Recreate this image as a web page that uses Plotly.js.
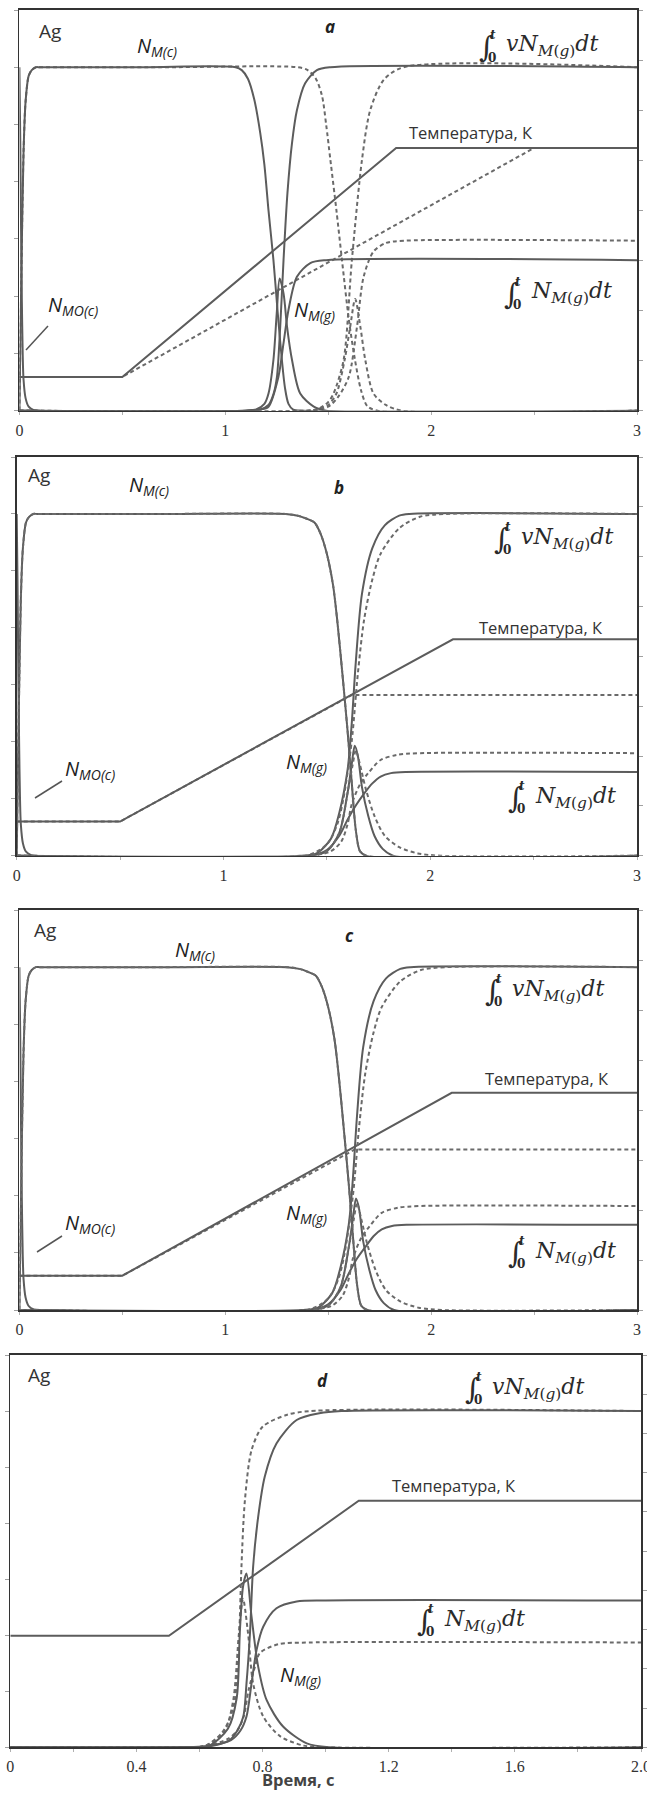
<!DOCTYPE html>
<html>
<head>
<meta charset="utf-8">
<script src="https://cdn.plot.ly/plotly-3.0.1.min.js"></script>
<style>
  html, body { margin: 0; padding: 0; background: #fff; }
  #chart { width: 647px; height: 1793px; }
</style>
</head>
<body>
<div id="chart"></div>
<script>
// ---------- tick labels ----------
const ticksABC = [0, 0.5, 1, 1.5, 2, 2.5, 3];
const tickTextABC = ['0', '', '1', '', '2', '', '3'];
const ticksD = [0, 0.2, 0.4, 0.6, 0.8, 1.0, 1.2, 1.4, 1.6, 1.8, 2.0];
const tickTextD = ['0', '', '0.4', '', '0.8', '', '1.2', '', '1.6', '', '2.0'];

// ---------- panel a ----------
const a_NMOc_t = [0, 0.004, 0.008, 0.012, 0.016, 0.02, 0.03, 0.045, 0.07, 0.1];
const a_NMOc_v = [6.0, 4.8, 3.2, 1.9, 1.0, 0.55, 0.22, 0.07, 0.01, 0];
const a_NMc_t = [0, 0.01, 0.02, 0.03, 0.045, 0.06, 0.08, 0.1, 0.6, 1.05, 1.08, 1.11, 1.14, 1.17, 1.19, 1.21, 1.234, 1.255, 1.275, 1.29, 1.307, 1.33, 1.38, 3];
const a_NMc_v = [0, 2.5, 4.5, 5.4, 5.85, 5.95, 6, 6, 6, 6, 5.95, 5.8, 5.45, 4.85, 4.3, 3.5, 2.63, 1.7, 0.89, 0.4, 0.12, 0.02, 0, 0];
const a_NMcD_t = [0, 0.01, 0.02, 0.03, 0.045, 0.06, 0.08, 0.1, 0.7, 1.35, 1.4, 1.44, 1.47, 1.49, 1.51, 1.54, 1.567, 1.6, 1.63, 1.66, 1.69, 1.74, 3];
const a_NMcD_v = [0, 2.5, 4.5, 5.4, 5.85, 5.95, 6, 6, 6, 6, 5.95, 5.8, 5.5, 5.0, 4.4, 3.5, 2.63, 1.6, 0.89, 0.35, 0.08, 0, 0];
const a_vN_t = [0, 1.1, 1.17, 1.21, 1.235, 1.251, 1.267, 1.283, 1.302, 1.324, 1.348, 1.388, 1.445, 1.51, 3];
const a_vN_v = [0, 0, 0.02, 0.1, 0.3, 0.59, 1.47, 2.63, 3.8, 4.67, 5.25, 5.72, 5.95, 6, 6];
const a_vND_t = [0, 1.4, 1.45, 1.5, 1.526, 1.575, 1.615, 1.664, 1.704, 1.77, 1.866, 3];
const a_vND_v = [0, 0, 0.03, 0.15, 0.3, 0.89, 2.63, 4.38, 5.25, 5.78, 6, 6];
const a_IN_t = [0, 1.1, 1.17, 1.21, 1.258, 1.283, 1.307, 1.348, 1.413, 1.49, 3];
const a_IN_v = [0, 0, 0.02, 0.07, 0.59, 1.18, 1.76, 2.34, 2.58, 2.63, 2.63];
const a_IND_t = [0, 1.4, 1.5, 1.55, 1.6, 1.64, 1.672, 1.72, 1.78, 1.87, 3];
const a_IND_v = [0, 0, 0.07, 0.25, 0.59, 1.47, 2.34, 2.78, 2.93, 2.97, 2.97];
const a_NMg_t = [0, 1.1, 1.15, 1.19, 1.21, 1.234, 1.25, 1.264, 1.283, 1.3, 1.324, 1.364, 1.43, 1.49, 3];
const a_NMg_v = [0, 0, 0.02, 0.12, 0.3, 0.89, 1.7, 2.31, 2.05, 1.47, 0.89, 0.3, 0.07, 0, 0];
const a_NMgD_t = [0, 1.4, 1.45, 1.5, 1.54, 1.58, 1.607, 1.631, 1.656, 1.68, 1.72, 1.78, 1.86, 3];
const a_NMgD_v = [0, 0, 0.02, 0.1, 0.3, 0.89, 1.47, 1.95, 1.47, 0.89, 0.3, 0.1, 0, 0];
const a_T_t = [0, 0.5, 1.83, 3];
const a_T_v = [0.59, 0.59, 4.59, 4.59];
const a_TD_t = [0, 0.5, 2.5, 3];
const a_TD_v = [0.59, 0.59, 4.59, 4.59];

// ---------- panel b ----------
const b_NMOc_t = [0, 0.004, 0.008, 0.012, 0.016, 0.02, 0.03, 0.045, 0.07, 0.1];
const b_NMOc_v = [6.0, 4.8, 3.2, 1.9, 1.0, 0.55, 0.22, 0.07, 0.01, 0];
const b_NMc_t = [0, 0.01, 0.02, 0.03, 0.045, 0.06, 0.08, 0.1, 0.7, 1.3, 1.36, 1.4, 1.44, 1.47, 1.5, 1.53, 1.55, 1.575, 1.6, 1.62, 1.64, 1.66, 1.69, 3];
const b_NMc_v = [0, 2.5, 4.5, 5.4, 5.85, 5.95, 6, 6, 6, 6, 5.97, 5.92, 5.85, 5.65, 5.3, 4.75, 4.14, 3.2, 2.2, 1.3, 0.45, 0.08, 0, 0];
const b_NMcD_t = [0, 0.01, 0.02, 0.03, 0.045, 0.06, 0.08, 0.1, 0.7, 1.3, 1.36, 1.4, 1.44, 1.47, 1.5, 1.53, 1.55, 1.575, 1.6, 1.62, 1.64, 1.66, 1.69, 3];
const b_NMcD_v = [0, 2.5, 4.5, 5.4, 5.85, 5.95, 6, 6, 6, 6, 5.97, 5.92, 5.85, 5.65, 5.3, 4.75, 4.14, 3.2, 2.2, 1.3, 0.45, 0.08, 0, 0];
const b_vN_t = [0, 1.37, 1.45, 1.52, 1.56, 1.6, 1.62, 1.64, 1.67, 1.72, 1.78, 1.85, 1.9, 3];
const b_vN_v = [0, 0, 0.04, 0.3, 0.75, 1.5, 2.3, 3.4, 4.6, 5.4, 5.8, 5.97, 6, 6];
const b_vND_t = [0, 1.4, 1.5, 1.55, 1.58, 1.62, 1.65, 1.68, 1.72, 1.76, 1.85, 1.95, 2.07, 3];
const b_vND_v = [0, 0, 0.2, 0.55, 1.0, 2.0, 3.2, 4.14, 4.85, 5.3, 5.75, 5.95, 6, 6];
const b_IN_t = [0, 1.42, 1.5, 1.56, 1.6, 1.64, 1.68, 1.72, 1.76, 1.81, 1.88, 3];
const b_IN_v = [0, 0, 0.1, 0.35, 0.63, 0.88, 1.09, 1.27, 1.39, 1.45, 1.47, 1.47];
const b_IND_t = [0, 1.42, 1.52, 1.57, 1.6, 1.62, 1.66, 1.7, 1.76, 1.84, 1.95, 3];
const b_IND_v = [0, 0, 0.08, 0.25, 0.55, 0.9, 1.25, 1.45, 1.68, 1.77, 1.8, 1.8];
const b_NMg_t = [0, 1.42, 1.5, 1.56, 1.6, 1.62, 1.635, 1.65, 1.67, 1.7, 1.73, 1.77, 1.82, 3];
const b_NMg_v = [0, 0, 0.08, 0.4, 1.1, 1.6, 1.93, 1.75, 1.2, 0.7, 0.35, 0.12, 0, 0];
const b_NMgD_t = [0, 1.42, 1.5, 1.56, 1.6, 1.625, 1.64, 1.66, 1.69, 1.73, 1.78, 1.85, 1.94, 2.05, 3];
const b_NMgD_v = [0, 0, 0.08, 0.4, 1.1, 1.6, 1.85, 1.6, 1.15, 0.7, 0.35, 0.15, 0.04, 0, 0];
const b_T_t = [0, 0.5, 2.11, 3];
const b_T_v = [0.6, 0.6, 3.8, 3.8];
const b_TD_t = [0, 0.5, 1.62, 3];
const b_TD_v = [0.6, 0.6, 2.82, 2.82];

// ---------- panel c ----------
const c_NMOc_t = [0, 0.004, 0.008, 0.012, 0.016, 0.02, 0.03, 0.045, 0.07, 0.1];
const c_NMOc_v = [6.0, 4.8, 3.2, 1.9, 1.0, 0.55, 0.22, 0.07, 0.01, 0];
const c_NMc_t = [0, 0.01, 0.02, 0.03, 0.045, 0.06, 0.08, 0.1, 0.7, 1.3, 1.36, 1.4, 1.44, 1.47, 1.5, 1.53, 1.55, 1.575, 1.6, 1.62, 1.64, 1.66, 1.69, 3];
const c_NMc_v = [0, 2.5, 4.5, 5.4, 5.85, 5.95, 6, 6, 6, 6, 5.97, 5.92, 5.85, 5.65, 5.3, 4.75, 4.14, 3.2, 2.2, 1.3, 0.45, 0.08, 0, 0];
const c_NMcD_t = [0, 0.01, 0.02, 0.03, 0.045, 0.06, 0.08, 0.1, 0.7, 1.3, 1.36, 1.4, 1.44, 1.47, 1.5, 1.53, 1.55, 1.575, 1.6, 1.62, 1.64, 1.66, 1.69, 3];
const c_NMcD_v = [0, 2.5, 4.5, 5.4, 5.85, 5.95, 6, 6, 6, 6, 5.97, 5.92, 5.85, 5.65, 5.3, 4.75, 4.14, 3.2, 2.2, 1.3, 0.45, 0.08, 0, 0];
const c_vN_t = [0, 1.37, 1.45, 1.52, 1.56, 1.6, 1.62, 1.64, 1.67, 1.72, 1.78, 1.85, 1.9, 3];
const c_vN_v = [0, 0, 0.04, 0.3, 0.75, 1.5, 2.3, 3.4, 4.6, 5.4, 5.8, 5.97, 6, 6];
const c_vND_t = [0, 1.4, 1.5, 1.55, 1.58, 1.62, 1.65, 1.68, 1.72, 1.76, 1.85, 1.95, 2.07, 3];
const c_vND_v = [0, 0, 0.2, 0.55, 1.0, 2.0, 3.2, 4.14, 4.85, 5.3, 5.75, 5.95, 6, 6];
const c_IN_t = [0, 1.42, 1.5, 1.56, 1.6, 1.64, 1.68, 1.72, 1.76, 1.81, 1.88, 3];
const c_IN_v = [0, 0, 0.1, 0.35, 0.64, 0.9, 1.1, 1.29, 1.41, 1.47, 1.49, 1.49];
const c_IND_t = [0, 1.42, 1.52, 1.57, 1.6, 1.62, 1.66, 1.7, 1.76, 1.84, 1.95, 3];
const c_IND_v = [0, 0, 0.08, 0.25, 0.55, 0.9, 1.26, 1.46, 1.7, 1.79, 1.82, 1.82];
const c_NMg_t = [0, 1.42, 1.5, 1.56, 1.6, 1.62, 1.635, 1.65, 1.67, 1.7, 1.73, 1.77, 1.82, 3];
const c_NMg_v = [0, 0, 0.08, 0.4, 1.1, 1.6, 1.95, 1.77, 1.2, 0.7, 0.35, 0.12, 0, 0];
const c_NMgD_t = [0, 1.42, 1.5, 1.56, 1.6, 1.625, 1.64, 1.66, 1.69, 1.73, 1.78, 1.85, 1.94, 2.05, 3];
const c_NMgD_v = [0, 0, 0.08, 0.4, 1.1, 1.6, 1.87, 1.6, 1.15, 0.7, 0.35, 0.15, 0.04, 0, 0];
const c_T_t = [0, 0.5, 2.1, 3];
const c_T_v = [0.6, 0.6, 3.8, 3.8];
const c_TD_t = [0, 0.5, 1.63, 3];
const c_TD_v = [0.6, 0.6, 2.81, 2.81];

// ---------- panel d ----------
const d_vN_t = [0, 0.55, 0.62, 0.66, 0.696, 0.72, 0.739, 0.749, 0.76, 0.77, 0.786, 0.807, 0.844, 0.908, 0.98, 1.05, 2];
const d_vN_v = [0, 0, 0.01, 0.05, 0.13, 0.3, 0.55, 1.14, 2.03, 3.22, 4.11, 4.83, 5.42, 5.84, 5.96, 6, 6];
const d_vND_t = [0, 0.55, 0.62, 0.67, 0.695, 0.712, 0.726, 0.733, 0.744, 0.765, 0.8, 0.876, 0.95, 2];
const d_vND_v = [0, 0, 0.03, 0.25, 0.5, 0.84, 2.03, 3.22, 4.41, 5.3, 5.72, 5.93, 6, 6];
const d_IN_t = [0, 0.55, 0.62, 0.7, 0.73, 0.749, 0.765, 0.781, 0.802, 0.844, 0.908, 1.0, 2];
const d_IN_v = [0, 0, 0.02, 0.13, 0.3, 0.55, 1.14, 1.74, 2.15, 2.48, 2.6, 2.62, 2.62];
const d_IND_t = [0, 0.55, 0.62, 0.69, 0.72, 0.74, 0.756, 0.776, 0.791, 0.85, 0.95, 2];
const d_IND_v = [0, 0, 0.02, 0.15, 0.3, 0.55, 1.03, 1.44, 1.68, 1.84, 1.87, 1.87];
const d_NMg_t = [0, 0.55, 0.63, 0.69, 0.718, 0.728, 0.738, 0.749, 0.765, 0.786, 0.813, 0.865, 0.94, 1.01, 2];
const d_NMg_v = [0, 0, 0.03, 0.33, 0.88, 2.07, 2.87, 3.1, 2.33, 1.44, 0.84, 0.37, 0.07, 0, 0];
const d_NMgD_t = [0, 0.55, 0.62, 0.68, 0.707, 0.725, 0.738, 0.754, 0.77, 0.802, 0.855, 0.93, 1.0, 2];
const d_NMgD_v = [0, 0, 0.03, 0.3, 0.84, 2.03, 2.65, 2.03, 1.14, 0.55, 0.2, 0.03, 0, 0];
const d_T_t = [0, 0.503, 1.105, 2];
const d_T_v = [1.99, 1.99, 4.4, 4.4];

// ---------- page geometry (pixels) ----------
const W = 647, H = 1793;
const px = x => x / W;
const py = y => 1 - y / H;

const panels = [
  { l: 19.4, r: 637, t: 10,   b: 410.7,  xmax: 3, y2max: 8,  tv: ticksABC, tt: tickTextABC },
  { l: 16.7, r: 637, t: 457,  b: 855.7,  xmax: 3, y2max: 8,  tv: ticksABC, tt: tickTextABC },
  { l: 19.4, r: 637, t: 910,  b: 1310,   xmax: 3, y2max: 8,  tv: ticksABC, tt: tickTextABC },
  { l: 10.3, r: 641, t: 1355, b: 1747.3, xmax: 2, y2max: 10, tv: ticksD,   tt: tickTextD }
];
panels.forEach((p, i) => {
  p.xa = i === 0 ? 'x' : 'x' + (i + 1);
  p.ya = i === 0 ? 'y' : 'y' + (i + 1);
  p.ya2 = 'y' + (i + 5);
});

const SOLID = { color: '#5c5c5c', width: 2 };
const DOTTED = { color: '#6a6a6a', width: 2, dash: '4px,3px' };

function curve(p, t, v, dashed, straight) {
  return {
    type: 'scatter', mode: 'lines', x: t, y: v,
    xaxis: p.xa, yaxis: p.ya,
    line: Object.assign({ shape: straight ? 'linear' : 'spline', smoothing: 0.8 }, dashed ? DOTTED : SOLID),
    hoverinfo: 'skip', showlegend: false
  };
}

const [pa, pb, pc, pd] = panels;
const traces = [
  // a
  curve(pa, a_TD_t, a_TD_v, true, true),
  curve(pa, a_T_t, a_T_v, false, true),
  curve(pa, a_NMcD_t, a_NMcD_v, true),
  curve(pa, a_vND_t, a_vND_v, true),
  curve(pa, a_IND_t, a_IND_v, true),
  curve(pa, a_NMgD_t, a_NMgD_v, true),
  curve(pa, a_NMOc_t, a_NMOc_v, false),
  curve(pa, a_NMc_t, a_NMc_v, false),
  curve(pa, a_vN_t, a_vN_v, false),
  curve(pa, a_IN_t, a_IN_v, false),
  curve(pa, a_NMg_t, a_NMg_v, false),
  // b
  curve(pb, b_TD_t, b_TD_v, true, true),
  curve(pb, b_T_t, b_T_v, false, true),
  curve(pb, b_NMOc_t, b_NMOc_v, false),
  curve(pb, b_NMc_t, b_NMc_v, false),
  curve(pb, b_NMcD_t, b_NMcD_v, true),
  curve(pb, b_vN_t, b_vN_v, false),
  curve(pb, b_vND_t, b_vND_v, true),
  curve(pb, b_IN_t, b_IN_v, false),
  curve(pb, b_IND_t, b_IND_v, true),
  curve(pb, b_NMg_t, b_NMg_v, false),
  curve(pb, b_NMgD_t, b_NMgD_v, true),
  // c
  curve(pc, c_TD_t, c_TD_v, true, true),
  curve(pc, c_T_t, c_T_v, false, true),
  curve(pc, c_NMOc_t, c_NMOc_v, false),
  curve(pc, c_NMc_t, c_NMc_v, false),
  curve(pc, c_NMcD_t, c_NMcD_v, true),
  curve(pc, c_vN_t, c_vN_v, false),
  curve(pc, c_vND_t, c_vND_v, true),
  curve(pc, c_IN_t, c_IN_v, false),
  curve(pc, c_IND_t, c_IND_v, true),
  curve(pc, c_NMg_t, c_NMg_v, false),
  curve(pc, c_NMgD_t, c_NMgD_v, true),
  // d
  curve(pd, d_T_t, d_T_v, false, true),
  curve(pd, d_vND_t, d_vND_v, true),
  curve(pd, d_IND_t, d_IND_v, true),
  curve(pd, d_NMgD_t, d_NMgD_v, true),
  curve(pd, d_vN_t, d_vN_v, false),
  curve(pd, d_IN_t, d_IN_v, false),
  curve(pd, d_NMg_t, d_NMg_v, false)
];

// invisible anchors so each secondary (right) axis is drawn
panels.forEach(p => traces.push({
  type: 'scatter', mode: 'markers', x: [0], y: [0], xaxis: p.xa, yaxis: p.ya2,
  marker: { opacity: 0 }, hoverinfo: 'skip', showlegend: false
}));

const FRAME = '#333333';
const layout = {
  width: W, height: H,
  margin: { l: 0, r: 0, t: 0, b: 0, pad: 0 },
  paper_bgcolor: '#fff', plot_bgcolor: '#fff',
  showlegend: false,
  annotations: [],
  shapes: []
};

panels.forEach((p, i) => {
  const xk = i === 0 ? 'xaxis' : 'xaxis' + (i + 1);
  const yk = i === 0 ? 'yaxis' : 'yaxis' + (i + 1);
  const y2k = 'yaxis' + (i + 5);
  layout[xk] = {
    domain: [px(p.l), px(p.r)], range: [0, p.xmax], anchor: p.ya,
    showline: true, linecolor: FRAME, linewidth: 1.6, mirror: true,
    ticks: 'outside', ticklen: 3, tickwidth: 1, tickcolor: '#b0b0b0',
    tickmode: 'array', tickvals: p.tv, ticktext: p.tt,
    tickfont: { family: 'Liberation Serif', size: 16, color: '#333' },
    ticklabelstandoff: 1, ticklabeloverflow: 'allow',
    showgrid: false, zeroline: false, fixedrange: true
  };
  layout[yk] = {
    domain: [py(p.b), py(p.t)], range: [0, 7], anchor: p.xa,
    showline: true, linecolor: FRAME, linewidth: 1.6,
    ticks: 'outside', ticklen: 4, tickwidth: 1, tickcolor: '#a0a0a0',
    dtick: 1, tick0: 0, showticklabels: false,
    showgrid: false, zeroline: false, fixedrange: true
  };
  layout[y2k] = {
    overlaying: p.ya, side: 'right', anchor: p.xa, range: [0, p.y2max],
    showline: true, linecolor: FRAME, linewidth: 1.6,
    ticks: 'outside', ticklen: 4, tickwidth: 1, tickcolor: '#a0a0a0',
    dtick: 1, tick0: 0, showticklabels: false,
    showgrid: false, zeroline: false, fixedrange: true
  };
});

// ---------- text ----------
const SANS = 'Open Sans';
const SERIF = 'DejaVu Serif';
function txt(x, y, text, font, anchor) {
  layout.annotations.push({
    xref: 'paper', yref: 'paper', x: px(x), y: py(y),
    xanchor: anchor || 'left', yanchor: 'middle',
    text: text, showarrow: false, font: font
  });
}
function integralLabel(x0, yc, body) {
  txt(x0, yc + 1, '∫', { family: SERIF, size: 29, color: '#2a2a2a' });
  txt(x0 + 11, yc - 11, '<b><i>t</i></b>', { family: SERIF, size: 12, color: '#2a2a2a' });
  txt(x0 + 9, yc + 12, '<b>0</b>', { family: SERIF, size: 12, color: '#2a2a2a' });
  txt(x0 + 27, yc, body, { family: SERIF, size: 22, color: '#2a2a2a' });
}
const VN_BODY = '<i>vN</i><sub><i>M</i>(<i>g</i>)</sub><i>dt</i>';
const N_BODY = '<i>N</i><sub><i>M</i>(<i>g</i>)</sub><i>dt</i>';
const nFont = { family: SANS, size: 20, color: '#222' };
const agFont = { family: SANS, size: 19, color: '#333' };
const tempFont = { family: SANS, size: 16.5, color: '#333' };
const letterFont = { family: SANS, size: 17, color: '#222' };

function pointer(x1, y1, x2, y2) {
  layout.shapes.push({
    type: 'line', xref: 'paper', yref: 'paper',
    x0: px(x1), y0: py(y1), x1: px(x2), y1: py(y2),
    line: { color: '#555', width: 1.5 }
  });
}

// panel a
txt(37, 31, 'Ag', agFont);
txt(330, 26, '<b><i>a</i></b>', letterFont, 'center');
txt(135, 47, '<i>N</i><sub><i>M(c)</i></sub>', nFont);
integralLabel(477, 46, VN_BODY);
txt(407, 132, 'Температура, К', tempFont);
integralLabel(502, 293, N_BODY);
txt(292, 310, '<i>N</i><sub><i>M(g)</i></sub>', nFont);
txt(46, 305, '<i>N</i><sub><i>MO(c)</i></sub>', nFont);
pointer(48, 326, 26, 350);

// panel b
txt(26, 475, 'Ag', agFont);
txt(339, 487, '<b><i>b</i></b>', letterFont, 'center');
txt(127, 485, '<i>N</i><sub><i>M(c)</i></sub>', nFont);
integralLabel(492, 538, VN_BODY);
txt(477, 627, 'Температура, К', tempFont);
integralLabel(506, 797, N_BODY);
txt(284, 762, '<i>N</i><sub><i>M(g)</i></sub>', nFont);
txt(63, 770, '<i>N</i><sub><i>MO(c)</i></sub>', nFont);
pointer(62, 781, 35, 798);

// panel c
txt(32, 930, 'Ag', agFont);
txt(349, 935, '<b><i>c</i></b>', letterFont, 'center');
txt(173, 950, '<i>N</i><sub><i>M(c)</i></sub>', nFont);
integralLabel(483, 990, VN_BODY);
txt(483, 1078, 'Температура, К', tempFont);
integralLabel(506, 1252, N_BODY);
txt(284, 1213, '<i>N</i><sub><i>M(g)</i></sub>', nFont);
txt(63, 1223, '<i>N</i><sub><i>MO(c)</i></sub>', nFont);
pointer(62, 1236, 37, 1252);

// panel d
txt(26, 1375, 'Ag', agFont);
txt(322, 1380, '<b><i>d</i></b>', letterFont, 'center');
integralLabel(463, 1388, VN_BODY);
txt(390, 1485, 'Температура, К', tempFont);
integralLabel(415, 1620, N_BODY);
txt(278, 1675, '<i>N</i><sub><i>M(g)</i></sub>', nFont);
txt(298, 1779, '<b>Время, с</b>', { family: SANS, size: 16.5, color: '#444' }, 'center');

Plotly.newPlot('chart', traces, layout, { staticPlot: true, displayModeBar: false });
</script>
</body>
</html>
